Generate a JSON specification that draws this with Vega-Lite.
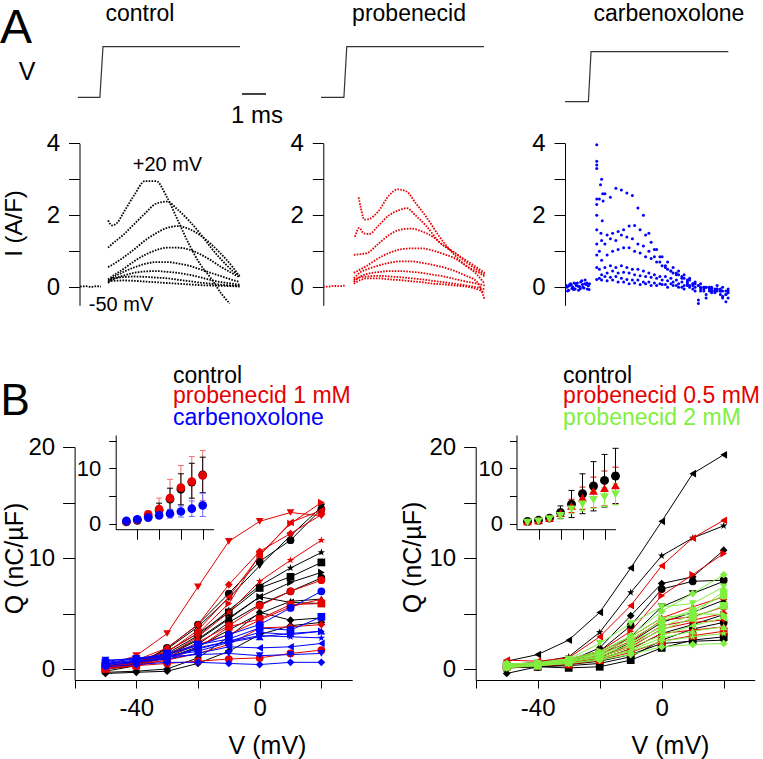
{
"$schema":"https://vega.github.io/schema/vega-lite/v6.json",
"width":763,"height":759,"autosize":{"type":"none"},"padding":0,"background":"white",
"config":{"view":{"stroke":null},"axis":{"grid":false,"labelFont":"Liberation Sans","titleFont":"Liberation Sans","labelColor":"#000","titleColor":"#000","domainColor":"#000","tickColor":"#000","labelFontSize":24,"titleFontSize":25,"titleFontWeight":"normal","labelOverlap":false,"labelFlush":false,"labelBound":false},"text":{"font":"Liberation Sans","color":"#000"}},
"datasets":{
"stepC":[{"t":-1.05,"V":-50},{"t":-0.05,"V":-50},{"t":0.09,"V":20},{"t":6.32,"V":20}],
"stepP":[{"t":-1.09,"V":-50},{"t":-0.05,"V":-50},{"t":0.08,"V":20},{"t":6.32,"V":20}],
"stepK":[{"t":-1.11,"V":-50},{"t":-0.05,"V":-50},{"t":0.07,"V":20},{"t":6.31,"V":20}],
"trC":[
{"k":1,"t":[0.32,0.5,0.75,1,1.5,2,2.5,3,3.5,4,4.5,5,5.5,5.85],"i":[1.86,1.72,1.8,2.05,2.55,2.95,2.95,2.5,1.85,1.2,0.65,0.25,-0.2,-0.45]},
{"k":2,"t":[0.32,0.5,1,1.5,2,2.5,3,3.5,4,4.5,5,5.5,6,6.3],"i":[1.1,1.2,1.45,1.75,2.05,2.32,2.38,2.15,1.85,1.5,1.1,0.75,0.45,0.33]},
{"k":3,"t":[0.32,0.5,1,1.5,2,2.5,3,3.5,4,4.5,5,5.5,6,6.3],"i":[0.56,0.62,0.82,1.05,1.3,1.5,1.65,1.7,1.62,1.45,1.2,0.9,0.55,0.3]},
{"k":4,"t":[0.32,0.5,1,1.5,2,2.5,3,3.5,4,4.5,5,5.5,6,6.3],"i":[0.22,0.3,0.5,0.72,0.9,1.03,1.1,1.1,1.05,0.92,0.75,0.55,0.38,0.28]},
{"k":5,"t":[0.32,0.5,1,1.5,2,2.5,3,3.5,4,4.5,5,5.5,6,6.3],"i":[0.15,0.25,0.42,0.55,0.65,0.7,0.7,0.66,0.6,0.5,0.4,0.3,0.2,0.15]},
{"k":6,"t":[0.32,0.5,1,1.5,2,2.5,3,3.5,4,4.5,5,5.5,6,6.3],"i":[0.12,0.2,0.32,0.4,0.44,0.45,0.43,0.4,0.35,0.28,0.2,0.14,0.1,0.07]},
{"k":7,"t":[0.32,0.5,1,1.5,2,2.5,3,3.5,4,4.5,5,5.5,6,6.3],"i":[0.2,0.24,0.28,0.3,0.29,0.27,0.25,0.21,0.17,0.13,0.1,0.07,0.05,0.04]},
{"k":8,"t":[0.32,0.5,1,1.5,2,2.5,3,3.5,4,4.5,5,5.5,6,6.3],"i":[0.18,0.18,0.19,0.18,0.16,0.14,0.12,0.1,0.08,0.06,0.05,0.04,0.03,0.02]},
{"k":9,"t":[-0.95,-0.7,-0.45,-0.2,0.0],"i":[0.02,0.03,0.01,0.03,0.02]}
],
"trP":[
{"k":1,"t":[0.62,0.72,0.88,1.1,1.5,2.0,2.4,2.8,3.2,3.7,4.3,4.9,5.5,6.1,6.35],"i":[2.5,2.2,1.88,1.9,2.1,2.55,2.72,2.66,2.35,1.95,1.4,0.95,0.6,0.4,0.3]},
{"k":2,"t":[0.45,0.65,0.85,1.1,1.5,2.0,2.5,2.8,3.2,3.7,4.3,4.9,5.5,6.1,6.35],"i":[1.4,1.65,1.5,1.48,1.7,2.0,2.15,2.2,2.0,1.7,1.25,1.0,0.7,0.45,0.35]},
{"k":3,"t":[0.4,0.7,1,1.5,2,2.5,3,3.5,4,4.5,5,5.5,6,6.35],"i":[0.9,0.92,0.95,1.2,1.45,1.6,1.63,1.55,1.4,1.15,0.95,0.75,0.55,0.4]},
{"k":4,"t":[0.4,0.7,1,1.5,2,2.5,3,3.5,4,4.5,5,5.5,6,6.35],"i":[0.4,0.5,0.6,0.8,0.95,1.05,1.08,1.08,1.02,0.92,0.8,0.6,0.35,0.1]},
{"k":5,"t":[0.4,0.7,1,1.5,2,2.5,3,3.5,4,4.5,5,5.5,6,6.35],"i":[0.25,0.42,0.5,0.6,0.68,0.72,0.72,0.68,0.62,0.55,0.45,0.32,0.15,-0.35]},
{"k":6,"t":[0.4,0.7,1,1.5,2,2.5,3,3.5,4,4.5,5,5.5,6,6.35],"i":[0.15,0.3,0.37,0.42,0.45,0.45,0.43,0.4,0.35,0.3,0.23,0.16,0.1,0.05]},
{"k":7,"t":[0.4,0.7,1,1.5,2,2.5,3,3.5,4,4.5,5,5.5,6,6.35],"i":[0.2,0.28,0.3,0.32,0.3,0.28,0.25,0.22,0.18,0.14,0.1,0.05,0.0,-0.05]},
{"k":8,"t":[0.4,0.7,1,1.5,2,2.5,3,3.5,4,4.5,5,5.5,6,6.35],"i":[0.1,0.2,0.25,0.25,0.22,0.2,0.17,0.14,0.1,0.08,0.05,0.02,-0.05,-0.15]},
{"k":9,"t":[-1.0,-0.75,-0.5,-0.25,-0.02],"i":[0.02,0.02,0.04,0.03,0.05]}
],
"trK":[
{"k":1,"t":[0.45,0.7,0.95,1.2,1.45,1.7,1.95,2.2,2.45,2.7,2.95,3.2,3.45,3.7,3.95,4.2,4.45,4.7,4.95,5.2,5.45,5.7,5.95,6.2],"i":[2.45,2.6,2.5,2.75,2.7,2.62,2.55,2.2,2.0,1.5,1.05,0.85,0.6,0.45,0.35,0.25,0.15,0.1,0.05,-0.05,0.0,-0.1,-0.05,-0.1]},
{"k":2,"t":[0.55,0.8,1.05,1.3,1.55,1.8,2.05,2.3,2.55,2.8,3.05,3.3,3.55,3.8,4.05,4.3,4.55,4.8,5.05,5.3,5.55,5.8,6.05,6.3],"i":[1.3,1.45,1.5,1.55,1.6,1.7,1.72,1.6,1.45,1.25,1.05,0.85,0.7,0.55,0.45,0.35,0.25,0.15,0.1,0.0,-0.05,0.05,-0.1,-0.05]},
{"k":3,"t":[0.45,0.7,0.95,1.2,1.45,1.7,1.95,2.2,2.45,2.7,2.95,3.2,3.45,3.7,3.95,4.2,4.45,4.7,4.95,5.2,5.45,5.7,5.95,6.2],"i":[1.0,1.2,1.35,1.3,1.45,1.4,1.35,1.2,1.15,1.0,0.85,0.7,0.55,0.45,0.4,0.3,0.2,0.1,0.05,-0.1,0.0,-0.15,-0.1,-0.2]},
{"k":4,"t":[0.55,0.8,1.05,1.3,1.55,1.8,2.05,2.3,2.55,2.8,3.05,3.3,3.55,3.8,4.05,4.3,4.55,4.8,5.05,5.3,5.55,5.8,6.05,6.3],"i":[0.75,0.9,1.0,1.05,1.1,1.1,1.0,0.95,0.85,0.8,0.7,0.6,0.5,0.4,0.35,0.25,0.2,0.1,0.0,-0.3,-0.1,-0.05,-0.25,-0.1]},
{"k":5,"t":[0.45,0.7,0.95,1.2,1.45,1.7,1.95,2.2,2.45,2.7,2.95,3.2,3.45,3.7,3.95,4.2,4.45,4.7,4.95,5.2,5.45,5.7,5.95,6.2],"i":[0.5,0.55,0.6,0.55,0.6,0.55,0.5,0.5,0.45,0.4,0.35,0.3,0.3,0.25,0.2,0.15,0.1,0.05,-0.45,0.0,-0.05,-0.1,-0.2,-0.4]},
{"k":6,"t":[0.55,0.8,1.05,1.3,1.55,1.8,2.05,2.3,2.55,2.8,3.05,3.3,3.55,3.8,4.05,4.3,4.55,4.8,5.05,5.3,5.55,5.8,6.05,6.3],"i":[0.35,0.4,0.45,0.4,0.42,0.4,0.35,0.32,0.3,0.28,0.25,0.2,0.18,0.15,0.1,0.05,0.05,0.0,-0.1,-0.2,0.0,-0.05,-0.3,-0.15]},
{"k":7,"t":[0.45,0.7,0.95,1.2,1.45,1.7,1.95,2.2,2.45,2.7,2.95,3.2,3.45,3.7,3.95,4.2,4.45,4.7,4.95,5.2,5.45,5.7,5.95,6.2],"i":[0.25,0.3,0.28,0.3,0.25,0.22,0.2,0.2,0.15,0.15,0.12,0.1,0.08,0.1,0.05,0.0,0.05,-0.05,-0.35,0.0,-0.1,-0.05,-0.1,-0.2]},
{"k":8,"t":[0.55,0.8,1.05,1.3,1.55,1.8,2.05,2.3,2.55,2.8,3.05,3.3,3.55,3.8,4.05,4.3,4.55,4.8,5.05,5.3,5.55,5.8,6.05,6.3],"i":[0.2,0.18,0.2,0.15,0.15,0.1,0.12,0.08,0.1,0.05,0.05,0.08,0.0,0.05,0.0,-0.05,0.0,-0.1,-0.05,0.0,-0.15,-0.1,0.0,-0.3]},
{"k":9,"t":[0.33,0.33,0.33,0.33,0.33,0.33,0.33,0.33,0.33,0.33,0.33,0.33,0.55,0.6,0.62,0.58,0.5,0.52],"i":[3.96,3.5,3.4,3.3,2.45,2.3,2.0,1.6,1.2,0.9,0.55,0.22,3.0,2.6,2.4,1.85,2.85,1.5]},
{"k":10,"t":[-1.05,-0.95,-0.85,-0.75,-0.65,-0.55,-0.45,-0.35,-0.25,-0.15,-0.05],"i":[0.05,-0.08,0.1,0.0,-0.05,0.12,0.02,0.18,-0.02,0.08,0.04]},
{"k":11,"t":[-1.0,-0.9,-0.8,-0.7,-0.6,-0.5,-0.4,-0.3,-0.2,-0.1,0.0],"i":[-0.1,0.08,-0.03,0.12,0.05,-0.08,0.15,0.0,0.2,-0.05,0.1]},
{"k":12,"t":[-1.02,-0.92,-0.82,-0.72,-0.62,-0.52,-0.42,-0.32,-0.22,-0.12,-0.02],"i":[0.0,0.04,0.06,-0.06,0.1,0.03,-0.04,0.08,0.1,0.12,-0.06]}
],
"L_ctl":[
{"n":1,"v":[-50,-40,-30,-20,-10,0,10,20],"q":[-0.2,0.3,1.9,4.0,6.8,9.7,11.6,14.4]},
{"n":2,"v":[-50,-40,-30,-20,-10,0,10,20],"q":[0.0,0.5,1.8,3.8,6.4,9.3,12.0,14.6]},
{"n":3,"v":[-50,-40,-30,-20,-10,0,10,20],"q":[0.1,0.4,1.4,3.0,5.3,7.5,9.1,10.5]},
{"n":4,"v":[-50,-40,-30,-20,-10,0,10,20],"q":[0.2,0.6,1.6,3.2,5.1,7.3,8.3,9.6]},
{"n":5,"v":[-50,-40,-30,-20,-10,0,10,20],"q":[0.0,0.3,1.2,2.6,4.5,6.5,7.8,8.7]},
{"n":6,"v":[-50,-40,-30,-20,-10,0,10,20],"q":[0.3,0.6,1.3,2.7,4.6,6.5,6.0,5.9]},
{"n":7,"v":[-50,-40,-30,-20,-10,0,10,20],"q":[0.1,0.4,1.0,2.0,3.5,5.0,6.1,6.3]},
{"n":8,"v":[-50,-40,-30,-20,-10,0,10,20],"q":[-0.3,-0.2,0.0,1.0,2.9,5.1,4.4,4.6]},
{"n":9,"v":[-50,-40,-30,-20,-10,0,10,20],"q":[-0.4,-0.3,-0.2,0.5,1.6,3.1,3.9,4.2]},
{"n":10,"v":[-50,-40,-30,-20,-10,0,10,20],"q":[0.2,0.5,1.1,2.2,4.2,5.8,7.0,8.2]}
],
"L_p1":[
{"n":1,"v":[-50,-40,-30,-20,-10,0,10,20],"q":[0.1,0.4,1.0,2.4,3.9,5.7,7.0,8.0]},
{"n":2,"v":[-50,-40,-30,-20,-10,0,10,20],"q":[0.3,1.2,3.2,7.4,11.5,13.3,14.1,13.8]},
{"n":3,"v":[-50,-40,-30,-20,-10,0,10,20],"q":[0.2,0.5,1.2,2.9,5.1,7.9,9.8,11.6]},
{"n":4,"v":[-50,-40,-30,-20,-10,0,10,20],"q":[0.0,0.3,0.8,1.9,3.8,4.5,5.8,5.9]},
{"n":5,"v":[-50,-40,-30,-20,-10,0,10,20],"q":[0.2,0.7,1.6,3.2,5.9,10.3,13.1,15.0]},
{"n":6,"v":[-50,-40,-30,-20,-10,0,10,20],"q":[0.2,0.6,1.5,3.5,6.5,10.2,13.2,14.3]},
{"n":7,"v":[-50,-40,-30,-20,-10,0,10,20],"q":[0.3,0.6,1.3,2.2,3.1,4.4,5.6,6.3]},
{"n":8,"v":[-50,-40,-30,-20,-10,0,10,20],"q":[0.1,0.8,1.9,4.0,7.6,10.6,12.2,13.9]},
{"n":9,"v":[-50,-40,-30,-20,-10,0,10,20],"q":[0.2,0.4,0.8,1.4,2.2,3.7,3.8,4.0]},
{"n":10,"v":[-50,-40,-30,-20,-10,0,10,20],"q":[0.1,0.3,0.5,0.7,0.9,1.0,1.4,1.7]}
],
"L_cbx":[
{"n":1,"v":[-50,-40,-30,-20,-10,0,10,20],"q":[0.5,0.8,1.3,2.1,3.1,4.0,5.5,7.0]},
{"n":2,"v":[-50,-40,-30,-20,-10,0,10,20],"q":[0.8,0.9,1.1,1.3,1.4,1.2,1.3,1.4]},
{"n":3,"v":[-50,-40,-30,-20,-10,0,10,20],"q":[0.5,0.7,1.0,1.9,2.5,3.0,2.9,2.8]},
{"n":4,"v":[-50,-40,-30,-20,-10,0,10,20],"q":[0.6,0.9,1.4,2.2,2.7,3.7,3.5,4.7]},
{"n":5,"v":[-50,-40,-30,-20,-10,0,10,20],"q":[0.4,0.7,1.0,1.8,2.5,3.3,3.1,3.4]},
{"n":6,"v":[-50,-40,-30,-20,-10,0,10,20],"q":[0.3,0.6,0.9,1.4,2.0,1.9,2.0,2.3]},
{"n":7,"v":[-50,-40,-30,-20,-10,0,10,20],"q":[0.7,1.0,1.2,1.6,2.4,2.9,3.2,3.4]},
{"n":8,"v":[-50,-40,-30,-20,-10,0,10,20],"q":[0.2,0.4,0.6,0.6,0.5,0.4,0.6,0.6]}
],
"R_ctl":[
{"n":1,"v":[-50,-40,-30,-20,-10,0,10,20],"q":[0.2,0.3,0.6,1.6,3.9,7.2,7.9,8.0]},
{"n":2,"v":[-50,-40,-30,-20,-10,0,10,20],"q":[0.1,0.3,0.5,1.2,2.9,5.6,6.8,7.9]},
{"n":3,"v":[-50,-40,-30,-20,-10,0,10,20],"q":[0.4,0.6,1.1,3.3,6.9,10.2,11.8,12.9]},
{"n":4,"v":[-50,-40,-30,-20,-10,0,10,20],"q":[0.3,0.2,0.1,0.2,0.8,1.9,2.6,2.9]},
{"n":5,"v":[-50,-40,-30,-20,-10,0,10,20],"q":[0.1,0.2,0.4,0.9,1.8,3.2,4.0,4.9]},
{"n":6,"v":[-50,-40,-30,-20,-10,0,10,20],"q":[0.7,1.3,2.6,5.1,9.1,13.3,17.6,19.3]},
{"n":7,"v":[-50,-40,-30,-20,-10,0,10,20],"q":[0.2,0.3,0.5,1.0,2.4,4.2,5.1,6.2]},
{"n":8,"v":[-50,-40,-30,-20,-10,0,10,20],"q":[-0.4,0.2,0.7,1.9,4.8,7.7,8.3,10.7]},
{"n":9,"v":[-50,-40,-30,-20,-10,0,10,20],"q":[0.2,0.3,0.4,0.7,1.3,2.3,2.5,2.6]},
{"n":10,"v":[-50,-40,-30,-20,-10,0,10,20],"q":[0.1,0.2,0.3,0.5,1.1,2.6,3.6,4.2]}
],
"R_p05":[
{"n":1,"v":[-50,-40,-30,-20,-10,0,10,20],"q":[0.2,0.3,0.6,1.3,2.5,4.4,4.7,5.6]},
{"n":2,"v":[-50,-40,-30,-20,-10,0,10,20],"q":[0.4,0.5,0.7,1.1,2.0,3.6,4.2,4.4]},
{"n":3,"v":[-50,-40,-30,-20,-10,0,10,20],"q":[0.1,0.3,0.5,0.9,1.8,3.2,3.5,3.8]},
{"n":4,"v":[-50,-40,-30,-20,-10,0,10,20],"q":[0.2,0.3,0.4,0.8,1.5,2.5,3.0,3.4]},
{"n":5,"v":[-50,-40,-30,-20,-10,0,10,20],"q":[0.5,0.4,0.9,1.6,3.4,6.6,8.5,10.4]},
{"n":6,"v":[-50,-40,-30,-20,-10,0,10,20],"q":[0.8,0.7,1.0,2.9,5.7,9.3,11.8,13.4]},
{"n":7,"v":[-50,-40,-30,-20,-10,0,10,20],"q":[0.3,0.5,0.8,1.5,2.9,4.6,5.6,6.5]},
{"n":8,"v":[-50,-40,-30,-20,-10,0,10,20],"q":[0.3,0.4,0.6,1.0,2.2,3.9,4.4,5.0]}
],
"R_p2":[
{"n":1,"v":[-50,-40,-30,-20,-10,0,10,20],"q":[0.4,0.5,0.8,1.4,2.7,4.3,5.3,6.6]},
{"n":2,"v":[-50,-40,-30,-20,-10,0,10,20],"q":[0.3,0.4,0.9,2.3,4.1,5.6,5.9,7.4]},
{"n":3,"v":[-50,-40,-30,-20,-10,0,10,20],"q":[0.3,0.3,0.5,0.9,1.6,2.5,2.9,3.2]},
{"n":4,"v":[-50,-40,-30,-20,-10,0,10,20],"q":[0.2,0.3,0.6,1.2,2.2,3.5,4.6,5.7]},
{"n":5,"v":[-50,-40,-30,-20,-10,0,10,20],"q":[0.4,0.6,0.9,1.6,2.9,4.6,5.0,4.9]},
{"n":6,"v":[-50,-40,-30,-20,-10,0,10,20],"q":[0.2,0.4,0.6,1.1,2.0,3.0,3.9,4.6]},
{"n":7,"v":[-50,-40,-30,-20,-10,0,10,20],"q":[0.3,0.4,0.7,1.0,1.7,2.8,3.4,3.8]},
{"n":8,"v":[-50,-40,-30,-20,-10,0,10,20],"q":[0.5,0.5,0.8,1.5,3.0,5.2,6.8,8.5]},
{"n":9,"v":[-50,-40,-30,-20,-10,0,10,20],"q":[0.1,0.3,0.5,0.8,1.3,2.0,2.2,2.3]},
{"n":10,"v":[-50,-40,-30,-20,-10,0,10,20],"q":[0.3,0.4,0.7,1.3,2.4,3.8,4.9,7.0]}
],
"IL_ctl":[{"v":[-50,-40,-30,-20,-10,0,10,20],"q":[0.3,0.6,1.3,2.4,4.4,6.2,7.5,8.8],"lo":[0.0,0.2,0.8,1.1,2.4,3.4,4.6,5.6],"hi":[0.6,1.0,1.8,3.7,6.4,9.0,10.9,12.0]}],
"IL_p1":[{"v":[-50,-40,-30,-20,-10,0,10,20],"q":[0.4,0.7,1.7,2.65,4.6,6.5,7.6,8.7],"lo":[0.1,0.3,1.1,1.1,1.6,2.5,3.2,4.2],"hi":[0.7,1.1,2.3,4.6,8.0,10.5,12.1,13.2]}],
"IL_cbx":[{"v":[-50,-40,-30,-20,-10,0,10,20],"q":[0.5,0.8,1.1,1.5,1.8,2.2,2.7,3.3],"lo":[0.2,0.5,0.7,1.0,1.0,1.2,1.3,1.3],"hi":[0.8,1.1,1.5,2.0,2.6,3.2,4.1,5.5]}],
"IR_ctl":[{"v":[-50,-40,-30,-20,-10,0,10,20,30],"q":[0.4,0.6,1.0,2.0,3.5,5.4,6.8,7.8,8.6],"lo":[0.2,0.3,0.6,0.9,1.1,1.8,2.3,3.0,3.6],"hi":[0.6,0.9,1.4,3.2,6.0,9.0,11.2,12.5,13.6]}],
"IR_p05":[{"v":[-50,-40,-30,-20,-10,0,10,20,30],"q":[0.4,0.6,1.0,1.9,3.2,4.7,5.9,6.4,6.9],"lo":[0.2,0.3,0.7,1.3,2.0,2.6,2.9,3.2,3.6],"hi":[0.6,0.9,1.3,2.5,4.4,6.6,8.4,9.5,10.2]}],
"IR_p2":[{"v":[-50,-40,-30,-20,-10,0,10,20,30],"q":[0.2,0.4,0.8,1.4,2.6,3.5,4.3,4.8,5.3],"lo":[0.0,0.2,0.5,1.0,1.8,2.3,2.8,3.1,3.4],"hi":[0.4,0.6,1.1,1.8,3.4,4.7,5.8,6.5,7.2]}]
},
"resolve":{"scale":{"x":"independent","y":"independent"},"axis":{"x":"independent","y":"independent"}},
"layer":[
{"encoding":{"x":{"field":"t","type":"quantitative","scale":{"domain":[-1,6.5],"range":[79,244],"nice":false,"zero":false},"axis":null},"y":{"field":"V","type":"quantitative","scale":{"domain":[-50,20],"range":[97.3,46.7],"nice":false,"zero":false},"axis":null}},
 "layer":[
  {"data":{"name":"stepC"},"mark":{"type":"line","color":"#333","strokeWidth":1.2}},
  {"data":{"values":[{"t":6.41,"t2":7.5,"V":-45.4}]},"mark":{"type":"rule","color":"#000","strokeWidth":1.5},"encoding":{"x2":{"field":"t2"}}},
  {"data":{"values":[{"t":7.09,"V":-85.6,"s":"1 ms"}]},"mark":{"type":"text","fontSize":24,"align":"center","baseline":"alphabetic"},"encoding":{"text":{"field":"s"}}},
  {"data":{"values":[{"t":1.77,"V":55.5,"s":"control"}]},"mark":{"type":"text","fontSize":23,"align":"center","baseline":"alphabetic"},"encoding":{"text":{"field":"s"}}},
  {"data":{"values":[{"t":-3.36,"V":-26.1,"s":"V"}]},"mark":{"type":"text","fontSize":25,"align":"center","baseline":"alphabetic"},"encoding":{"text":{"field":"s"}}},
  {"data":{"values":[{"t":-4.59,"V":25.8,"s":"A"}]},"mark":{"type":"text","fontSize":48,"align":"left","baseline":"alphabetic"},"encoding":{"text":{"field":"s"}}}
 ]},
{"encoding":{"x":{"field":"t","type":"quantitative","scale":{"domain":[-1,6.5],"range":[79,244],"nice":false,"zero":false},"axis":null},"y":{"field":"i","type":"quantitative","scale":{"domain":[-0.5,4],"range":[305.3,143.3],"nice":false,"zero":false},"axis":{"orient":"left","offset":-79.5,"values":[0,1,2,3,4],"labelExpr":"datum.value % 2 === 0 ? datum.label : ''","tickSize":11,"labelPadding":9,"title":"I (A/F)","titleFontSize":24,"titleX":-65.5,"titleY":223,"titleAngle":-90,"titleAlign":"center","titleBaseline":"middle"}}},
 "layer":[
  {"data":{"name":"trC"},"transform":[{"flatten":["t","i"]}],"mark":{"type":"line","color":"#000","strokeWidth":1.8,"strokeDash":[1.6,1.3],"interpolate":"monotone"},"encoding":{"detail":{"field":"k","type":"nominal"}}},
  {"data":{"values":[{"t":3.02,"i":3.39,"s":"+20 mV"}]},"mark":{"type":"text","fontSize":20,"align":"center","baseline":"middle"},"encoding":{"text":{"field":"s"}}},
  {"data":{"values":[{"t":0.91,"i":-0.49,"s":"-50 mV"}]},"mark":{"type":"text","fontSize":20,"align":"center","baseline":"middle"},"encoding":{"text":{"field":"s"}}}
 ]},
{"encoding":{"x":{"field":"t","type":"quantitative","scale":{"domain":[-1,6.5],"range":[323,488],"nice":false,"zero":false},"axis":null},"y":{"field":"V","type":"quantitative","scale":{"domain":[-50,20],"range":[97.3,46.7],"nice":false,"zero":false},"axis":null}},
 "layer":[
  {"data":{"name":"stepP"},"mark":{"type":"line","color":"#333","strokeWidth":1.2}},
  {"data":{"values":[{"t":2.91,"V":55.5,"s":"probenecid"}]},"mark":{"type":"text","fontSize":23,"align":"center","baseline":"alphabetic"},"encoding":{"text":{"field":"s"}}}
 ]},
{"encoding":{"x":{"field":"t","type":"quantitative","scale":{"domain":[-1,6.5],"range":[323,488],"nice":false,"zero":false},"axis":null},"y":{"field":"i","type":"quantitative","scale":{"domain":[-0.5,4],"range":[305.3,143.3],"nice":false,"zero":false},"axis":{"orient":"left","offset":-323.3,"values":[0,1,2,3,4],"labelExpr":"datum.value % 2 === 0 ? datum.label : ''","tickSize":11,"labelPadding":9,"title":null}}},
 "layer":[
  {"data":{"name":"trP"},"transform":[{"flatten":["t","i"]}],"mark":{"type":"line","color":"#e60000","strokeWidth":1.8,"strokeDash":[1.6,1.3],"interpolate":"monotone"},"encoding":{"detail":{"field":"k","type":"nominal"}}}
 ]},
{"encoding":{"x":{"field":"t","type":"quantitative","scale":{"domain":[-1,6.5],"range":[567.5,732.5],"nice":false,"zero":false},"axis":null},"y":{"field":"V","type":"quantitative","scale":{"domain":[-50,20],"range":[101.7,51.7],"nice":false,"zero":false},"axis":null}},
 "layer":[
  {"data":{"name":"stepK"},"mark":{"type":"line","color":"#333","strokeWidth":1.2}},
  {"data":{"values":[{"t":3.61,"V":62.6,"s":"carbenoxolone"}]},"mark":{"type":"text","fontSize":23,"align":"center","baseline":"alphabetic"},"encoding":{"text":{"field":"s"}}}
 ]},
{"encoding":{"x":{"field":"t","type":"quantitative","scale":{"domain":[-1,6.5],"range":[567.5,732.5],"nice":false,"zero":false},"axis":null},"y":{"field":"i","type":"quantitative","scale":{"domain":[-0.5,4],"range":[305.3,143.3],"nice":false,"zero":false},"axis":{"orient":"left","offset":-565,"values":[0,1,2,3,4],"labelExpr":"datum.value % 2 === 0 ? datum.label : ''","tickSize":11,"labelPadding":9,"title":null}}},
 "layer":[
  {"data":{"name":"trK"},"transform":[{"flatten":["t","i"]}],"mark":{"type":"circle","color":"#0000ff","size":9,"opacity":1}}
 ]},
{"encoding":{"x":{"field":"v","type":"quantitative","scale":{"domain":[-60,30],"range":[74.6,352.2],"nice":false,"zero":false},"axis":{"orient":"bottom","offset":-79,"values":[-60,-40,-20,0,20],"labelExpr":"datum.value === -40 ? '-40' : (datum.value === 0 ? '0' : '')","tickSize":8,"labelPadding":8,"title":"V (mV)","titleX":267,"titleY":65,"titleAlign":"center","titleBaseline":"middle"}},"y":{"field":"q","type":"quantitative","scale":{"domain":[-1,20],"range":[680.1,447],"nice":false,"zero":false},"axis":{"orient":"left","offset":-74.6,"values":[0,5,10,15,20],"labelExpr":"datum.value % 10 === 0 ? datum.label : ''","tickSize":12,"labelPadding":8,"title":"Q (nC/µF)","titleX":-60.6,"titleY":558,"titleAngle":-90,"titleAlign":"center","titleBaseline":"middle"}}},
 "layer":[
  {"data":{"name":"L_ctl"},"transform":[{"flatten":["v","q"]}],"mark":{"type":"line","color":"#000","strokeWidth":1},"encoding":{"detail":{"field":"n","type":"nominal"}}},
  {"data":{"name":"L_ctl"},"transform":[{"flatten":["v","q"]}],"mark":{"type":"point","filled":true,"color":"#000","size":60,"opacity":1},"encoding":{"shape":{"field":"n","type":"nominal","scale":{"domain":[1,2,3,4,5,6,7,8,9,10],"range":["circle","triangle-down","M0,-1L0.235,-0.324L0.951,-0.309L0.38,0.124L0.588,0.809L0,0.4L-0.588,0.809L-0.38,0.124L-0.951,-0.309L-0.235,-0.324Z","square","triangle-right","triangle-left","triangle-up","diamond","diamond","circle"]},"legend":null}}},
  {"data":{"name":"L_p1"},"transform":[{"flatten":["v","q"]}],"mark":{"type":"line","color":"#e60000","strokeWidth":1},"encoding":{"detail":{"field":"n","type":"nominal"}}},
  {"data":{"name":"L_p1"},"transform":[{"flatten":["v","q"]}],"mark":{"type":"point","filled":true,"color":"#e60000","size":60,"opacity":1},"encoding":{"shape":{"field":"n","type":"nominal","scale":{"domain":[1,2,3,4,5,6,7,8,9,10],"range":["circle","triangle-down","M0,-1L0.235,-0.324L0.951,-0.309L0.38,0.124L0.588,0.809L0,0.4L-0.588,0.809L-0.38,0.124L-0.951,-0.309L-0.235,-0.324Z","square","triangle-right","triangle-left","triangle-up","diamond","diamond","circle"]},"legend":null}}},
  {"data":{"name":"L_cbx"},"transform":[{"flatten":["v","q"]}],"mark":{"type":"line","color":"#0000ff","strokeWidth":1},"encoding":{"detail":{"field":"n","type":"nominal"}}},
  {"data":{"name":"L_cbx"},"transform":[{"flatten":["v","q"]}],"mark":{"type":"point","filled":true,"color":"#0000ff","size":60,"opacity":1},"encoding":{"shape":{"field":"n","type":"nominal","scale":{"domain":[1,2,3,4,5,6,7,8,9,10],"range":["circle","triangle-down","M0,-1L0.235,-0.324L0.951,-0.309L0.38,0.124L0.588,0.809L0,0.4L-0.588,0.809L-0.38,0.124L-0.951,-0.309L-0.235,-0.324Z","square","triangle-right","triangle-left","triangle-up","diamond","diamond","circle"]},"legend":null}}},
  {"data":{"values":[{"v":-28.1,"q":25.77,"s":"control"}]},"mark":{"type":"text","fontSize":23,"align":"left","baseline":"alphabetic","color":"#000"},"encoding":{"text":{"field":"s"}}},
  {"data":{"values":[{"v":-28.1,"q":23.92,"s":"probenecid 1 mM"}]},"mark":{"type":"text","fontSize":23,"align":"left","baseline":"alphabetic","color":"#e60000"},"encoding":{"text":{"field":"s"}}},
  {"data":{"values":[{"v":-28.1,"q":21.98,"s":"carbenoxolone"}]},"mark":{"type":"text","fontSize":23,"align":"left","baseline":"alphabetic","color":"#0000ff"},"encoding":{"text":{"field":"s"}}},
  {"data":{"values":[{"v":-84.0,"q":22.9,"s":"B"}]},"mark":{"type":"text","fontSize":44,"align":"left","baseline":"alphabetic","color":"#000"},"encoding":{"text":{"field":"s"}}}
 ]},
{"encoding":{"x":{"field":"v","type":"quantitative","scale":{"domain":[-60,30],"range":[115.5,213.6],"nice":false,"zero":false},"axis":null},"y":{"field":"q","type":"quantitative","scale":{"domain":[-1,16],"range":[529.2,435],"nice":false,"zero":false},"axis":null}},
 "layer":[
  {"data":{"name":"IL_p1"},"transform":[{"flatten":["v","q","lo","hi"]}],"layer":[
    {"mark":{"type":"rule","color":"#f07070","strokeWidth":1},"encoding":{"y":{"field":"lo","type":"quantitative","scale":{"domain":[-1,16],"range":[529.2,435],"nice":false,"zero":false},"axis":null},"y2":{"field":"hi"}}},
    {"mark":{"type":"tick","orient":"horizontal","color":"#f07070","size":6,"thickness":1,"opacity":1},"encoding":{"y":{"field":"lo","type":"quantitative","scale":{"domain":[-1,16],"range":[529.2,435],"nice":false,"zero":false},"axis":null}}},
    {"mark":{"type":"tick","orient":"horizontal","color":"#f07070","size":6,"thickness":1,"opacity":1},"encoding":{"y":{"field":"hi","type":"quantitative","scale":{"domain":[-1,16],"range":[529.2,435],"nice":false,"zero":false},"axis":null}}}
  ]},
  {"data":{"name":"IL_ctl"},"transform":[{"flatten":["v","q","lo","hi"]}],"layer":[
    {"mark":{"type":"rule","color":"#000","strokeWidth":1},"encoding":{"y":{"field":"lo","type":"quantitative","scale":{"domain":[-1,16],"range":[529.2,435],"nice":false,"zero":false},"axis":null},"y2":{"field":"hi"}}},
    {"mark":{"type":"tick","orient":"horizontal","color":"#000","size":6,"thickness":1,"opacity":1},"encoding":{"y":{"field":"lo","type":"quantitative","scale":{"domain":[-1,16],"range":[529.2,435],"nice":false,"zero":false},"axis":null}}},
    {"mark":{"type":"tick","orient":"horizontal","color":"#000","size":6,"thickness":1,"opacity":1},"encoding":{"y":{"field":"hi","type":"quantitative","scale":{"domain":[-1,16],"range":[529.2,435],"nice":false,"zero":false},"axis":null}}}
  ]},
  {"data":{"name":"IL_cbx"},"transform":[{"flatten":["v","q","lo","hi"]}],"layer":[
    {"mark":{"type":"rule","color":"#6a6aff","strokeWidth":1},"encoding":{"y":{"field":"lo","type":"quantitative","scale":{"domain":[-1,16],"range":[529.2,435],"nice":false,"zero":false},"axis":null},"y2":{"field":"hi"}}},
    {"mark":{"type":"tick","orient":"horizontal","color":"#6a6aff","size":6,"thickness":1,"opacity":1},"encoding":{"y":{"field":"lo","type":"quantitative","scale":{"domain":[-1,16],"range":[529.2,435],"nice":false,"zero":false},"axis":null}}},
    {"mark":{"type":"tick","orient":"horizontal","color":"#6a6aff","size":6,"thickness":1,"opacity":1},"encoding":{"y":{"field":"hi","type":"quantitative","scale":{"domain":[-1,16],"range":[529.2,435],"nice":false,"zero":false},"axis":null}}}
  ]}
 ]},
{"encoding":{"x":{"field":"v","type":"quantitative","scale":{"domain":[-60,30],"range":[115.5,213.6],"nice":false,"zero":false},"axis":{"orient":"bottom","offset":-229.8,"values":[-40,-20,0,20],"labels":false,"tickSize":10,"title":null}},"y":{"field":"q","type":"quantitative","scale":{"domain":[-1,16],"range":[529.2,435],"nice":false,"zero":false},"axis":{"orient":"left","offset":-115.7,"values":[0,5,10,15],"labelExpr":"datum.value % 10 === 0 ? datum.label : ''","tickSize":7,"labelPadding":8,"labelFontSize":22,"title":null}}},
 "layer":[
  {"data":{"name":"IL_ctl"},"transform":[{"flatten":["v","q","lo","hi"]}],"mark":{"type":"point","shape":"circle","filled":true,"color":"#000","size":75,"opacity":1}},
  {"data":{"name":"IL_p1"},"transform":[{"flatten":["v","q","lo","hi"]}],"mark":{"type":"point","shape":"circle","filled":true,"color":"#e60000","size":75,"opacity":1}},
  {"data":{"name":"IL_cbx"},"transform":[{"flatten":["v","q","lo","hi"]}],"mark":{"type":"point","shape":"circle","filled":true,"color":"#0000ff","size":75,"opacity":1}}
 ]},
{"encoding":{"x":{"field":"v","type":"quantitative","scale":{"domain":[-60,30],"range":[475.7,754.7],"nice":false,"zero":false},"axis":{"orient":"bottom","offset":-79,"values":[-60,-40,-20,0,20],"labelExpr":"datum.value === -40 ? '-40' : (datum.value === 0 ? '0' : '')","tickSize":8,"labelPadding":8,"title":"V (mV)","titleX":670,"titleY":65,"titleAlign":"center","titleBaseline":"middle"}},"y":{"field":"q","type":"quantitative","scale":{"domain":[-1,20],"range":[680.1,447],"nice":false,"zero":false},"axis":{"orient":"left","offset":-475.7,"values":[0,5,10,15,20],"labelExpr":"datum.value % 10 === 0 ? datum.label : ''","tickSize":12,"labelPadding":8,"title":"Q (nC/µF)","titleX":-63.7,"titleY":557,"titleAngle":-90,"titleAlign":"center","titleBaseline":"middle"}}},
 "layer":[
  {"data":{"name":"R_ctl"},"transform":[{"flatten":["v","q"]}],"mark":{"type":"line","color":"#000","strokeWidth":1},"encoding":{"detail":{"field":"n","type":"nominal"}}},
  {"data":{"name":"R_ctl"},"transform":[{"flatten":["v","q"]}],"mark":{"type":"point","filled":true,"color":"#000","size":60,"opacity":1},"encoding":{"shape":{"field":"n","type":"nominal","scale":{"domain":[1,2,3,4,5,6,7,8,9,10],"range":["circle","triangle-down","M0,-1L0.235,-0.324L0.951,-0.309L0.38,0.124L0.588,0.809L0,0.4L-0.588,0.809L-0.38,0.124L-0.951,-0.309L-0.235,-0.324Z","square","triangle-right","triangle-left","triangle-up","diamond","diamond","circle"]},"legend":null}}},
  {"data":{"name":"R_p05"},"transform":[{"flatten":["v","q"]}],"mark":{"type":"line","color":"#e60000","strokeWidth":1},"encoding":{"detail":{"field":"n","type":"nominal"}}},
  {"data":{"name":"R_p05"},"transform":[{"flatten":["v","q"]}],"mark":{"type":"point","filled":true,"color":"#e60000","size":60,"opacity":1},"encoding":{"shape":{"field":"n","type":"nominal","scale":{"domain":[1,2,3,4,5,6,7,8,9,10],"range":["circle","triangle-down","M0,-1L0.235,-0.324L0.951,-0.309L0.38,0.124L0.588,0.809L0,0.4L-0.588,0.809L-0.38,0.124L-0.951,-0.309L-0.235,-0.324Z","square","triangle-right","triangle-left","triangle-up","diamond","diamond","circle"]},"legend":null}}},
  {"data":{"name":"R_p2"},"transform":[{"flatten":["v","q"]}],"mark":{"type":"line","color":"#80f040","strokeWidth":1},"encoding":{"detail":{"field":"n","type":"nominal"}}},
  {"data":{"name":"R_p2"},"transform":[{"flatten":["v","q"]}],"mark":{"type":"point","filled":true,"color":"#80f040","size":60,"opacity":1},"encoding":{"shape":{"field":"n","type":"nominal","scale":{"domain":[1,2,3,4,5,6,7,8,9,10],"range":["circle","triangle-down","M0,-1L0.235,-0.324L0.951,-0.309L0.38,0.124L0.588,0.809L0,0.4L-0.588,0.809L-0.38,0.124L-0.951,-0.309L-0.235,-0.324Z","square","triangle-right","triangle-left","triangle-up","diamond","diamond","circle"]},"legend":null}}},
  {"data":{"values":[{"v":-31.8,"q":25.77,"s":"control"}]},"mark":{"type":"text","fontSize":23,"align":"left","baseline":"alphabetic","color":"#000"},"encoding":{"text":{"field":"s"}}},
  {"data":{"values":[{"v":-31.8,"q":23.92,"s":"probenecid 0.5 mM"}]},"mark":{"type":"text","fontSize":23,"align":"left","baseline":"alphabetic","color":"#e60000"},"encoding":{"text":{"field":"s"}}},
  {"data":{"values":[{"v":-31.8,"q":21.98,"s":"probenecid 2 mM"}]},"mark":{"type":"text","fontSize":23,"align":"left","baseline":"alphabetic","color":"#80f040"},"encoding":{"text":{"field":"s"}}}
 ]},
{"encoding":{"x":{"field":"v","type":"quantitative","scale":{"domain":[-60,30],"range":[516.5,615.5],"nice":false,"zero":false},"axis":null},"y":{"field":"q","type":"quantitative","scale":{"domain":[-1,16],"range":[529.2,435],"nice":false,"zero":false},"axis":null}},
 "layer":[
  {"data":{"name":"IR_p05"},"transform":[{"flatten":["v","q","lo","hi"]}],"layer":[
    {"mark":{"type":"rule","color":"#e60000","strokeWidth":1},"encoding":{"y":{"field":"lo","type":"quantitative","scale":{"domain":[-1,16],"range":[529.2,435],"nice":false,"zero":false},"axis":null},"y2":{"field":"hi"}}},
    {"mark":{"type":"tick","orient":"horizontal","color":"#e60000","size":6,"thickness":1,"opacity":1},"encoding":{"y":{"field":"lo","type":"quantitative","scale":{"domain":[-1,16],"range":[529.2,435],"nice":false,"zero":false},"axis":null}}},
    {"mark":{"type":"tick","orient":"horizontal","color":"#e60000","size":6,"thickness":1,"opacity":1},"encoding":{"y":{"field":"hi","type":"quantitative","scale":{"domain":[-1,16],"range":[529.2,435],"nice":false,"zero":false},"axis":null}}}
  ]},
  {"data":{"name":"IR_ctl"},"transform":[{"flatten":["v","q","lo","hi"]}],"layer":[
    {"mark":{"type":"rule","color":"#000","strokeWidth":1},"encoding":{"y":{"field":"lo","type":"quantitative","scale":{"domain":[-1,16],"range":[529.2,435],"nice":false,"zero":false},"axis":null},"y2":{"field":"hi"}}},
    {"mark":{"type":"tick","orient":"horizontal","color":"#000","size":6,"thickness":1,"opacity":1},"encoding":{"y":{"field":"lo","type":"quantitative","scale":{"domain":[-1,16],"range":[529.2,435],"nice":false,"zero":false},"axis":null}}},
    {"mark":{"type":"tick","orient":"horizontal","color":"#000","size":6,"thickness":1,"opacity":1},"encoding":{"y":{"field":"hi","type":"quantitative","scale":{"domain":[-1,16],"range":[529.2,435],"nice":false,"zero":false},"axis":null}}}
  ]},
  {"data":{"name":"IR_p2"},"transform":[{"flatten":["v","q","lo","hi"]}],"layer":[
    {"mark":{"type":"rule","color":"#80f040","strokeWidth":1},"encoding":{"y":{"field":"lo","type":"quantitative","scale":{"domain":[-1,16],"range":[529.2,435],"nice":false,"zero":false},"axis":null},"y2":{"field":"hi"}}},
    {"mark":{"type":"tick","orient":"horizontal","color":"#80f040","size":6,"thickness":1,"opacity":1},"encoding":{"y":{"field":"lo","type":"quantitative","scale":{"domain":[-1,16],"range":[529.2,435],"nice":false,"zero":false},"axis":null}}},
    {"mark":{"type":"tick","orient":"horizontal","color":"#80f040","size":6,"thickness":1,"opacity":1},"encoding":{"y":{"field":"hi","type":"quantitative","scale":{"domain":[-1,16],"range":[529.2,435],"nice":false,"zero":false},"axis":null}}}
  ]}
 ]},
{"encoding":{"x":{"field":"v","type":"quantitative","scale":{"domain":[-60,30],"range":[516.5,615.5],"nice":false,"zero":false},"axis":{"orient":"bottom","offset":-229.8,"values":[-40,-20,0,20],"labels":false,"tickSize":10,"title":null}},"y":{"field":"q","type":"quantitative","scale":{"domain":[-1,16],"range":[529.2,435],"nice":false,"zero":false},"axis":{"orient":"left","offset":-516.5,"values":[0,5,10,15],"labelExpr":"datum.value % 10 === 0 ? datum.label : ''","tickSize":7,"labelPadding":7,"labelFontSize":22,"title":null}}},
 "layer":[
  {"data":{"name":"IR_ctl"},"transform":[{"flatten":["v","q","lo","hi"]}],"mark":{"type":"point","shape":"circle","filled":true,"color":"#000","size":80,"opacity":1}},
  {"data":{"name":"IR_p05"},"transform":[{"flatten":["v","q","lo","hi"]}],"mark":{"type":"point","shape":"triangle-up","filled":true,"color":"#e60000","size":80,"opacity":1}},
  {"data":{"name":"IR_p2"},"transform":[{"flatten":["v","q","lo","hi"]}],"mark":{"type":"point","shape":"triangle-down","filled":true,"color":"#80f040","size":80,"opacity":1}}
 ]}
]
}
